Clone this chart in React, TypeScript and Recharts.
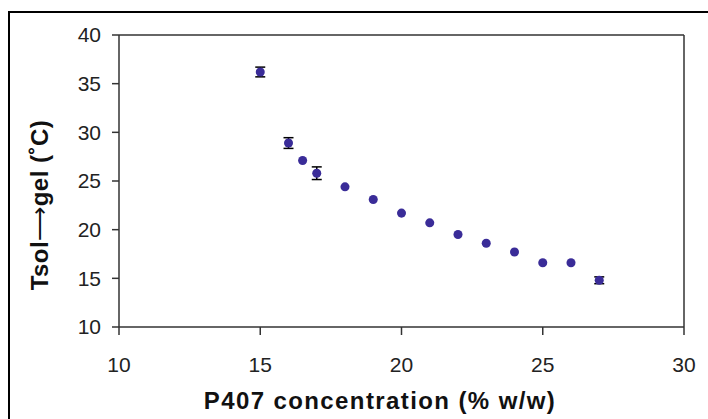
import React from 'react';
import {
  ScatterChart, Scatter, XAxis, YAxis, ZAxis, ErrorBar, ReferenceLine
} from 'recharts';

// P407 concentration (% w/w) vs sol-gel transition temperature
const concentrations = [15, 16, 16.5, 17, 18, 19, 20, 21, 22, 23, 24, 25, 26, 27];
const tsolgel = [36.2, 28.9, 27.1, 25.8, 24.4, 23.1, 21.7, 20.7, 19.5, 18.6, 17.7, 16.6, 16.6, 14.8];
const errors = [0.5, 0.55, 0, 0.65, 0, 0, 0, 0, 0, 0, 0, 0, 0, 0.35];

const xTicks = [10, 15, 20, 25, 30];
const yTicks = [10, 15, 20, 25, 30, 35, 40];

const data = concentrations.map((c, i) => ({ x: c, y: tsolgel[i], err: errors[i] }));

const font = '"Liberation Sans", Arial, Helvetica, sans-serif';
const axisColor = '#333';

const App: React.FC = () => {
  return (
    <div style={{ position: 'absolute', left: 0, top: 0, width: 708, height: 419, overflow: 'hidden', background: '#fff', fontFamily: font }}>
      {/* outer frame, runs off the right and bottom edge */}
      <div style={{
        position: 'absolute', left: 8, top: 11, width: 720, height: 430,
        borderLeft: '2px solid #000', borderTop: '2px solid #000'
      }} />
      <div style={{ position: 'absolute', left: 0, top: 0 }}>
        <ScatterChart width={708} height={419} margin={{ top: 35, right: 24, bottom: 52, left: 59 }}>
          <XAxis
            type="number"
            dataKey="x"
            domain={[10, 30]}
            ticks={xTicks}
            height={40}
            tickSize={8}
            tickMargin={22}
            stroke={axisColor}
            strokeWidth={1.5}
            tick={{ fill: '#222', fontSize: 21, fontFamily: font }}
          />
          <YAxis
            type="number"
            dataKey="y"
            domain={[10, 40]}
            ticks={yTicks}
            width={60}
            tickSize={7}
            tickMargin={11}
            stroke={axisColor}
            strokeWidth={1.5}
            tick={{ fill: '#222', fontSize: 21, fontFamily: font }}
          />
          <ZAxis range={[50, 50]} />
          <ReferenceLine y={40} stroke={axisColor} strokeWidth={1.5} />
          <ReferenceLine x={30} stroke={axisColor} strokeWidth={1.5} />
          <Scatter data={data} fill="#3a2c98" shape="circle" isAnimationActive={false}>
            <ErrorBar dataKey="err" direction="y" width={5} stroke="#000" strokeWidth={1.5} />
          </Scatter>
        </ScatterChart>
      </div>
      <div style={{
        position: 'absolute', left: 380, top: 387, transform: 'translateX(-50%)',
        fontSize: 24, fontWeight: 'bold', letterSpacing: 1.4, whiteSpace: 'nowrap', color: '#111'
      }}>
        P407 concentration (% w/w)
      </div>
      <div style={{
        position: 'absolute', left: 40, top: 205, transform: 'translate(-50%, -50%) rotate(-90deg)',
        fontSize: 24, fontWeight: 'bold', letterSpacing: 0.5, whiteSpace: 'nowrap', color: '#111'
      }}>
        Tsol<span style={{ fontWeight: 'normal' }}>⟶</span>gel (˚C)
      </div>
    </div>
  );
};

export default App;
